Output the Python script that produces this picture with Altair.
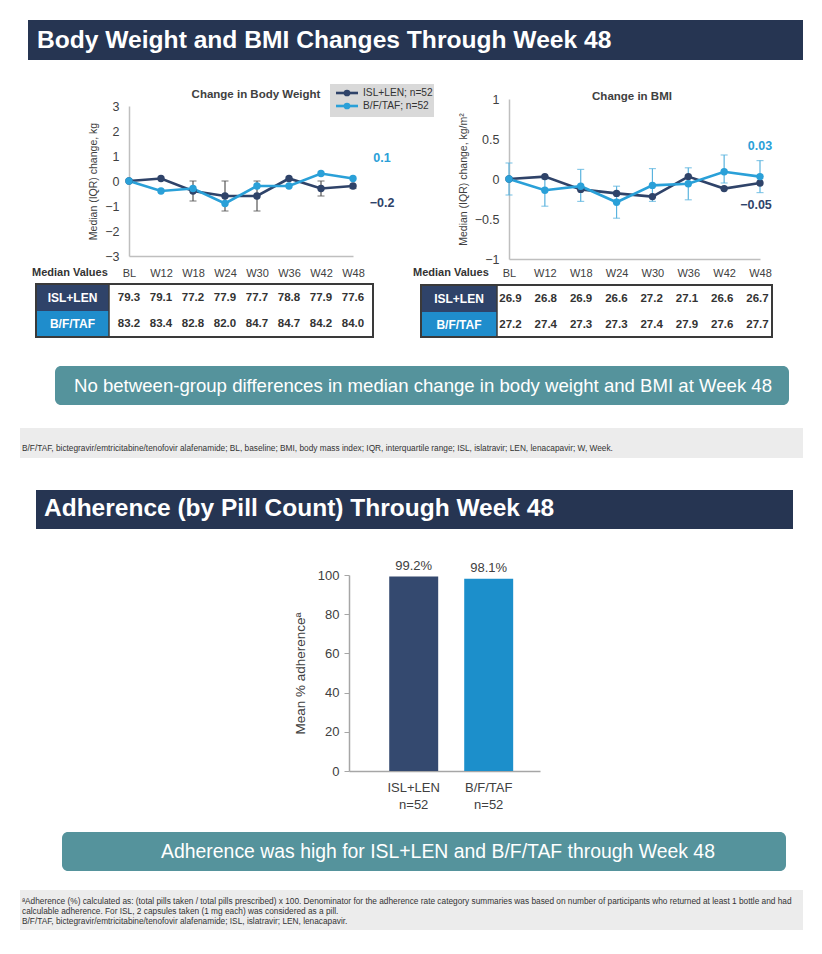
import altair as alt
import pandas as pd

FONT = "Liberation Sans"
W, H = 806, 938

# ---------------- data ----------------
weeks = ["BL", "W12", "W18", "W24", "W30", "W36", "W42", "W48"]
series = ["ISL+LEN", "B/F/TAF"]
series_n = [52, 52]

bw_isl = [0.0, 0.1, -0.4, -0.6, -0.6, 0.1, -0.3, -0.2]
bw_bft = [0.0, -0.4, -0.3, -0.9, -0.2, -0.2, 0.3, 0.1]
bw_err_weeks = ["W18", "W24", "W30", "W42", "W48"]
bw_err_lo = [-0.8, -1.2, -1.2, -0.6, -0.3]
bw_err_hi = [0.0, 0.0, 0.0, 0.0, -0.2]

bmi_isl = [0.0, 0.03, -0.13, -0.18, -0.22, 0.03, -0.12, -0.05]
bmi_bft = [0.0, -0.14, -0.09, -0.29, -0.08, -0.06, 0.09, 0.03]
bmi_err_weeks = ["BL", "W12", "W18", "W24", "W30", "W36", "W42", "W48"]
bmi_err_lo = [-0.2, -0.34, -0.28, -0.49, -0.28, -0.26, -0.05, -0.17]
bmi_err_hi = [0.2, 0.0, 0.12, -0.09, 0.13, 0.14, 0.30, 0.23]

bw_end_labels = ["\u22120.2", "0.1"]
bmi_end_labels = ["\u22120.05", "0.03"]

bw_tbl_isl = ["79.3", "79.1", "77.2", "77.9", "77.7", "78.8", "77.9", "77.6"]
bw_tbl_bft = ["83.2", "83.4", "82.8", "82.0", "84.7", "84.7", "84.2", "84.0"]
bmi_tbl_isl = ["26.9", "26.8", "26.9", "26.6", "27.2", "27.1", "26.6", "26.7"]
bmi_tbl_bft = ["27.2", "27.4", "27.3", "27.3", "27.4", "27.9", "27.6", "27.7"]

adh_groups = ["ISL+LEN", "B/F/TAF"]
adh_values = [99.2, 98.1]
adh_n = [52, 52]

# ---------------- styles ----------------
NAVY = "#2f4369"
BLUE = "#2aa0d8"
BANNER = "#263552"
TEAL = "#55939c"
GRAY_TXT = "#404040"
DOMAIN = "#bfbfbf"

one = pd.DataFrame({"k": [0]})


def rect(x, x2, y, y2, fill, stroke=None, sw=0, r=0):
    kw = dict(fill=fill, cornerRadius=r)
    if stroke:
        kw.update(stroke=stroke, strokeWidth=sw)
    return alt.Chart(one).mark_rect(**kw).encode(
        x=alt.value(x), x2=alt.value(x2), y=alt.value(y), y2=alt.value(y2))


def text(t, x, y, size, color="#333333", weight="normal", align="left"):
    return alt.Chart(one).mark_text(
        text=t, align=align, baseline="middle", font=FONT, fontSize=size,
        fontWeight=weight, color=color).encode(x=alt.value(x), y=alt.value(y))


color_scale = alt.Scale(domain=series, range=[NAVY, BLUE])


def line_panel(isl, bft, ew, elo, ehi, x0, x1, ydom, yrange, yvals, ytitle,
               err_color, end_labels, lab_dx, lab_dy, x_lpad, title_pad):
    df = pd.DataFrame({
        "week": weeks * 2,
        "series": [series[0]] * len(weeks) + [series[1]] * len(weeks),
        "value": isl + bft,
    })
    err = pd.DataFrame({"week": ew, "lo": elo, "hi": ehi})
    ends = pd.DataFrame({"week": [weeks[-1]] * 2, "series": series,
                         "value": [isl[-1], bft[-1]], "label": end_labels})
    xs = alt.Scale(type="point", domain=weeks, range=[x0, x1], padding=0)
    ys = alt.Scale(domain=ydom, range=yrange, nice=False, zero=False)
    xaxis = alt.Axis(orient="bottom", offset=-(H - yrange[0]), title=None,
                     tickSize=0, labelPadding=x_lpad, labelAngle=0,
                     labelFont=FONT, labelFontSize=11, labelColor=GRAY_TXT,
                     domainColor=DOMAIN, domainWidth=1.5, grid=False)
    yaxis = alt.Axis(orient="left", offset=-x0, values=yvals, format="~g",
                     tickSize=0, labelPadding=10, labelFont=FONT,
                     labelFontSize=12.5, labelColor=GRAY_TXT,
                     domainColor=DOMAIN, domainWidth=1.5, grid=False,
                     title=ytitle, titleFont=FONT, titleFontSize=10.5,
                     titleFontWeight="normal", titleColor=GRAY_TXT,
                     titlePadding=title_pad)
    X = alt.X("week:N", scale=xs, sort=weeks, axis=xaxis)
    C = alt.Color("series:N", scale=color_scale, legend=None)
    bars = alt.Chart(err).mark_rule(color=err_color, strokeWidth=1.2).encode(
        x=X, y=alt.Y("lo:Q", scale=ys, axis=yaxis), y2="hi:Q")
    cap_lo = alt.Chart(err).mark_tick(color=err_color, size=7, thickness=1.2).encode(
        x=X, y=alt.Y("lo:Q", scale=ys, axis=yaxis))
    cap_hi = alt.Chart(err).mark_tick(color=err_color, size=7, thickness=1.2).encode(
        x=X, y=alt.Y("hi:Q", scale=ys, axis=yaxis))
    lines = alt.Chart(df).mark_line(strokeWidth=2.6).encode(
        x=X, y=alt.Y("value:Q", scale=ys, axis=yaxis), color=C,
        order=alt.Order("week:N"))
    pts = alt.Chart(df).mark_circle(size=55, opacity=1).encode(
        x=X, y=alt.Y("value:Q", scale=ys, axis=yaxis), color=C)
    lab_isl = alt.Chart(ends[ends.series == series[0]]).mark_text(
        font=FONT, fontSize=12.5, fontWeight="bold", dx=lab_dx[0], dy=lab_dy[0]).encode(
        x=X, y=alt.Y("value:Q", scale=ys, axis=yaxis), text="label:N", color=C)
    lab_bft = alt.Chart(ends[ends.series == series[1]]).mark_text(
        font=FONT, fontSize=12.5, fontWeight="bold", dx=lab_dx[1], dy=lab_dy[1]).encode(
        x=X, y=alt.Y("value:Q", scale=ys, axis=yaxis), text="label:N", color=C)
    return alt.layer(bars, cap_lo, cap_hi, lines, pts, lab_isl, lab_bft)


def table_layer(vals_isl, vals_bft, x0, x1, yrow):
    df = pd.DataFrame({
        "week": weeks * 2,
        "series": [series[0]] * len(weeks) + [series[1]] * len(weeks),
        "txt": vals_isl + vals_bft,
    })
    xs = alt.Scale(type="point", domain=weeks, range=[x0, x1], padding=0)
    ys = alt.Scale(type="point", domain=series, range=yrow, padding=0)
    return alt.Chart(df).mark_text(font=FONT, fontSize=11.5, fontWeight="bold",
                                   color="#333333").encode(
        x=alt.X("week:N", scale=xs, sort=weeks, axis=None),
        y=alt.Y("series:N", scale=ys, axis=None),
        text="txt:N")


def table_frame(x0, xcell, x1, y0, ymid, y1, lab_x, lab_y):
    return [
        rect(x0, x1, y0, y1, "#ffffff", stroke="#3a3a3a", sw=2),
        rect(x0 + 1, xcell, y0 + 1, ymid, NAVY),
        rect(x0 + 1, xcell, ymid, y1 - 1, "#1f8dcc"),
        alt.Chart(one).mark_rule(color="#3a3a3a", strokeWidth=1.5).encode(
            x=alt.value(xcell), y=alt.value(y0), y2=alt.value(y1)),
        text("ISL+LEN", (x0 + xcell) / 2, (y0 + ymid) / 2, 12, "#ffffff", "bold", "center"),
        text("B/F/TAF", (x0 + xcell) / 2, (ymid + y1) / 2, 12, "#ffffff", "bold", "center"),
        text("Median Values", lab_x, lab_y, 11, "#333333", "bold"),
    ]


# ---------------- legend ----------------
leg_df = pd.DataFrame({"series": series,
                       "label": [f"{s}; n={n}" for s, n in zip(series, series_n)]})
leg_y = alt.Scale(type="point", domain=series, range=[85, 98], padding=0)
legend_layers = [
    rect(322, 426, 76, 109, "#d9d9d9"),
    alt.Chart(leg_df).mark_rule(strokeWidth=2.6).encode(
        x=alt.value(328), x2=alt.value(350),
        y=alt.Y("series:N", scale=leg_y, axis=None),
        color=alt.Color("series:N", scale=color_scale, legend=None)),
    alt.Chart(leg_df).mark_circle(size=45, opacity=1).encode(
        x=alt.value(339),
        y=alt.Y("series:N", scale=leg_y, axis=None),
        color=alt.Color("series:N", scale=color_scale, legend=None)),
    alt.Chart(leg_df).mark_text(align="left", font=FONT, fontSize=10.2,
                                color="#333333").encode(
        x=alt.value(355),
        y=alt.Y("series:N", scale=leg_y, axis=None),
        text="label:N"),
]

# ---------------- panels ----------------
bw_panel = line_panel(bw_isl, bw_bft, bw_err_weeks, bw_err_lo, bw_err_hi,
                      121, 345, [-3, 3], [248, 98], [-3, -2, -1, 0, 1, 2, 3],
                      "Median (IQR) change, kg", "#555555", bw_end_labels,
                      [29, 29], [17, -21], 11, 6)
bmi_panel = line_panel(bmi_isl, bmi_bft, bmi_err_weeks, bmi_err_lo, bmi_err_hi,
                       501, 752, [-1, 1], [251, 91], [-1, -0.5, 0, 0.5, 1],
                       "Median (IQR) change, kg/m\u00b2", "#5ab3de", bmi_end_labels,
                       [-4, 0], [22, -31], 8, 6)

# ---------------- bar chart ----------------
bar_df = pd.DataFrame({"group": adh_groups, "value": adh_values,
                       "label": [f"{v:.1f}%" for v in adh_values]})
lab_expr = " : ".join(
    [f"datum.label == '{g}' ? ['{g}', 'n={n}']" for g, n in zip(adh_groups, adh_n)]
) + " : datum.label"
bx = alt.Scale(type="band", domain=adh_groups, range=[341, 532],
               paddingInner=0.347, paddingOuter=0.447, align=0.6)
by = alt.Scale(domain=[0, 100], range=[763, 567], nice=False, zero=True)
bxaxis = alt.Axis(orient="bottom", offset=-(H - 763), title=None, tickSize=0,
                  labelPadding=10, labelAngle=0, labelFont=FONT, labelFontSize=13,
                  labelColor=GRAY_TXT, labelExpr=lab_expr, labelLineHeight=17,
                  domainColor="#a6a6a6", domainWidth=1.5, grid=False)
byaxis = alt.Axis(orient="left", offset=-341, values=[0, 20, 40, 60, 80, 100],
                  tickSize=5, tickColor="#a6a6a6", labelPadding=5, labelFont=FONT,
                  labelFontSize=13, labelColor=GRAY_TXT, domainColor="#a6a6a6",
                  domainWidth=1.5, grid=False, title="Mean % adherence\u00aa",
                  titleFont=FONT, titleFontSize=13.5, titleFontWeight="normal",
                  titleColor=GRAY_TXT, titlePadding=10)
bar_color = alt.Scale(domain=adh_groups, range=["#34496f", "#1c8fcb"])
bars = alt.Chart(bar_df).mark_bar().encode(
    x=alt.X("group:N", scale=bx, sort=adh_groups, axis=bxaxis),
    y=alt.Y("value:Q", scale=by, axis=byaxis),
    color=alt.Color("group:N", scale=bar_color, legend=None))
bar_txt = alt.Chart(bar_df).mark_text(font=FONT, fontSize=13, color=GRAY_TXT,
                                      baseline="middle", dy=-11).encode(
    x=alt.X("group:N", scale=bx, sort=adh_groups, axis=bxaxis),
    y=alt.Y("value:Q", scale=by, axis=byaxis),
    text="label:N")
bar_panel = alt.layer(bars, bar_txt)

# ---------------- decorations ----------------
foot1 = ("B/F/TAF, bictegravir/emtricitabine/tenofovir alafenamide; BL, baseline; BMI, body mass index; "
         "IQR, interquartile range; ISL, islatravir; LEN, lenacapavir; W, Week.")
foot2a = ("\u00aaAdherence (%) calculated as: (total pills taken / total pills prescribed) x 100. Denominator for the "
          "adherence rate category summaries was based on number of participants who returned at least 1 bottle and had")
foot2b = "calculable adherence. For ISL, 2 capsules taken (1 mg each) was considered as a pill."
foot2c = "B/F/TAF, bictegravir/emtricitabine/tenofovir alafenamide; ISL, islatravir; LEN, lenacapavir."

deco = [
    rect(20, 795, 12, 52, BANNER),
    text("Body Weight and BMI Changes Through Week 48", 29, 33, 24.6, "#ffffff", "bold"),
    text("Change in Body Weight", 248, 87, 11.5, GRAY_TXT, "bold", "center"),
    text("Change in BMI", 624, 89, 11.5, GRAY_TXT, "bold", "center"),
    rect(47, 781, 358, 397, TEAL, r=6),
    text("No between-group differences in median change in body weight and BMI at Week 48",
         415, 378, 18.6, "#ffffff", "normal", "center"),
    rect(12, 795, 420, 450, "#ececec"),
    text(foot1, 14, 441, 8.3, "#333333"),
    rect(28, 785, 482, 521, BANNER),
    text("Adherence (by Pill Count) Through Week 48", 36, 501, 24.5, "#ffffff", "bold"),
    rect(54, 778, 824, 863, TEAL, r=6),
    text("Adherence was high for ISL+LEN and B/F/TAF through Week 48",
         430, 844, 19.4, "#ffffff", "normal", "center"),
    rect(12, 795, 882, 922, "#ececec"),
    text(foot2a, 14, 894, 8.3, "#333333"),
    text(foot2b, 14, 904, 8.3, "#333333"),
    text(foot2c, 14, 914, 8.3, "#333333"),
]

tables = (table_frame(28, 101, 365, 276, 303, 329, 24, 265)
          + [table_layer(bw_tbl_isl, bw_tbl_bft, 121, 345, [289.5, 316])]
          + table_frame(413, 489, 764, 277, 304, 329, 405, 265)
          + [table_layer(bmi_tbl_isl, bmi_tbl_bft, 502.5, 749.5, [290.5, 316.5])])

chart = alt.layer(
    *deco, *tables, *legend_layers, bw_panel, bmi_panel, bar_panel
).resolve_scale(
    x="independent", y="independent", color="independent"
).resolve_axis(
    x="independent", y="independent"
).properties(
    width=W, height=H, padding=0,
    autosize=alt.AutoSizeParams(type="none"),
    background="#ffffff",
).configure_view(stroke=None)

chart.save("out.html", embed_options={"renderer": "svg", "actions": False})
